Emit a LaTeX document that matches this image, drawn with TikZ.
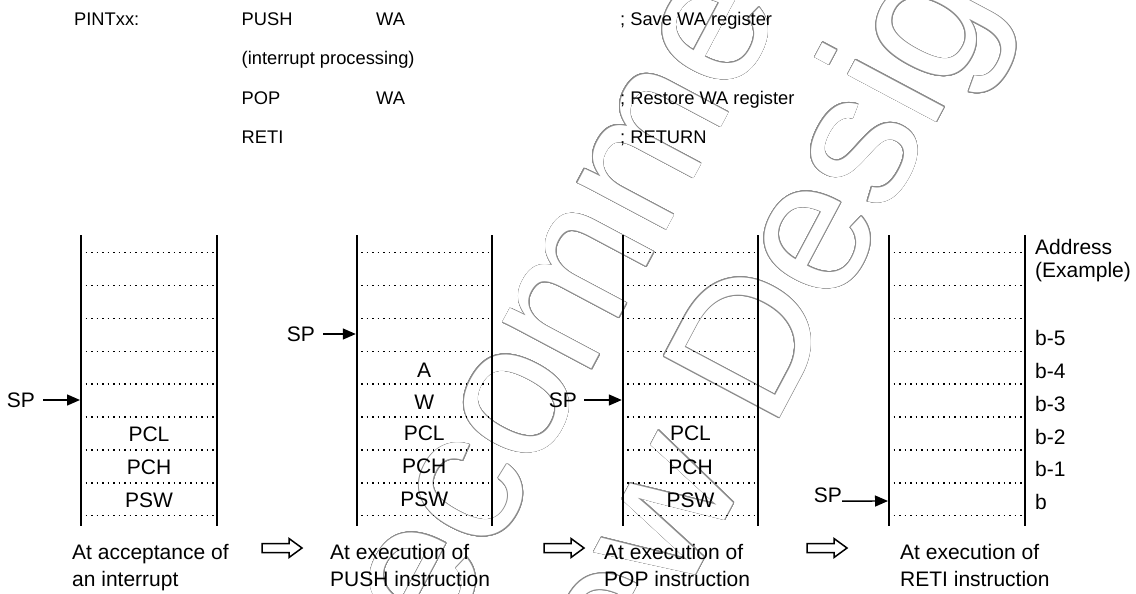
\documentclass[tikz,border=0pt]{standalone}
\usepackage{fontspec}
\setmainfont{Liberation Sans}
\usepackage{contour}
\contourlength{0.6pt}
\contournumber{24}
\usetikzlibrary{arrows.meta}
\tikzset{
  stackline/.style={line width=1.8pt},
  dotline/.style={line width=1.5pt, dash pattern=on 1.5pt off 4pt},
  codetxt/.style={anchor=base west, inner sep=0pt, font=\fontsize{18.3}{20}\selectfont},
  stk/.style={anchor=base, inner sep=0pt, font=\fontsize{21}{24}\selectfont},
  adr/.style={anchor=base west, inner sep=0pt, font=\fontsize{21}{24}\selectfont},
  captxt/.style={anchor=base west, inner sep=0pt, font=\fontsize{21}{24}\selectfont},
  splbl/.style={anchor=east, inner sep=0pt, font=\fontsize{21}{24}\selectfont},
  sparrow/.style={line width=1.4pt, -{Triangle[length=13pt,width=11pt]}},
  wmark/.style={anchor=base west, inner sep=0pt, rotate=62, font=\fontsize{190}{200}\selectfont},
  blockar/.pic={\draw[line width=1.5pt, line join=miter]
     (0,-4.5) -- (27,-4.5) -- (27,-9.5) -- (40,0) -- (27,9.5) -- (27,4.5) -- (0,4.5) -- cycle;}
}
\begin{document}
\begin{tikzpicture}[x=1pt,y=-1pt]
\fill[white] (0,0) rectangle (1136,594);
\useasboundingbox (0,0) rectangle (1136,594);

% watermark (hollow letters)
\begin{scope}
\clip (0,0) rectangle (1136,594);
\node[wmark] (wm1) at (214,1080) {\color{white}\contour{black!45}{Not Recommended}};
\node[wmark] (wm2) at (440,1056) {\color{white}\contour{black!45}{for New Design}};
\end{scope}

% code listing
\node[codetxt] (c1) at (74,25.5) {PINTxx:};
\node[codetxt] (c2) at (241.5,25.5) {PUSH};
\node[codetxt] (c3) at (376,25.5) {WA};
\node[codetxt] (c4) at (620,25.5) {; Save WA register};
\node[codetxt] (c5) at (241.5,64.8) {(interrupt processing)};
\node[codetxt] (c6) at (241.5,104) {POP};
\node[codetxt] (c7) at (376,104) {WA};
\node[codetxt] (c8) at (620,104) {; Restore WA register};
\node[codetxt] (c9) at (241.5,143.3) {RETI};
\node[codetxt] (c10) at (620,143.3) {; RETURN};

% stacks
\foreach \L/\R in {81/217, 356.7/491.7, 622.7/758.3, 889/1025} {
  \draw[stackline] (\L,235) -- (\L,526);
  \draw[stackline] (\R,235) -- (\R,526);
  \foreach \k in {0,...,8}
    \draw[dotline] (\L+4.5,252.7+\k*32.87) -- (\R-3,252.7+\k*32.87);
}

% stack 1
\node[stk] (s1a) at (149,441) {PCL};
\node[stk] (s1b) at (149,474) {PCH};
\node[stk] (s1c) at (149,507) {PSW};
\node[splbl] (sp1) at (35,400) {SP};
\coordinate (t1) at (80,400);
\draw[sparrow] ([xshift=8pt]sp1.east) -- (t1);

% stack 2
\node[stk] (s2a) at (424.2,377.5) {A};
\node[stk] (s2b) at (424.2,409.5) {W};
\node[stk] (s2c) at (424.2,440.5) {PCL};
\node[stk] (s2d) at (424.2,473.5) {PCH};
\node[stk] (s2e) at (424.2,506.5) {PSW};
\node[splbl] (sp2) at (315,334) {SP};
\coordinate (t2) at (355.8,334);
\draw[sparrow] ([xshift=8pt]sp2.east) -- (t2);

% stack 3
\node[stk] (s3a) at (690.5,440.5) {PCL};
\node[stk] (s3b) at (690.5,474) {PCH};
\node[stk] (s3c) at (690.5,507.5) {PSW};
\node[splbl] (sp3) at (577,400) {SP};
\coordinate (t3) at (621.8,400);
\draw[sparrow] ([xshift=7pt]sp3.east) -- (t3);

% stack 4
\node[adr] (ad1) at (1035,254) {Address};
\node[adr] (ad2) at (1035,277) {(Example)};
\node[adr] (b5) at (1035,345.4) {b-5};
\node[adr] (b4) at (1035,378.3) {b-4};
\node[adr] (b3) at (1035,411.1) {b-3};
\node[adr] (b2) at (1035,444) {b-2};
\node[adr] (b1) at (1035,476.9) {b-1};
\node[adr] (b0) at (1035,509.7) {b};
\node[splbl] (sp4) at (842,495) {SP};
\coordinate (t4) at (888,501);
\draw[sparrow] ([yshift=1.5pt]sp4.south east) -- (t4);

% transition arrows
\pic at (262,548) {blockar};
\pic at (544,548) {blockar};
\pic at (807,548) {blockar};

% captions
\node[captxt] (k1a) at (72,559) {At acceptance of};
\node[captxt] (k1b) at (72,586) {an interrupt};
\node[captxt] (k2a) at (330,559) {At execution of};
\node[captxt] (k2b) at (330,586) {PUSH instruction};
\node[captxt] (k3a) at (604,559) {At execution of};
\node[captxt] (k3b) at (604,586) {POP instruction};
\node[captxt] (k4a) at (900,559) {At execution of};
\node[captxt] (k4b) at (900,586) {RETI instruction};
\end{tikzpicture}
\end{document}
